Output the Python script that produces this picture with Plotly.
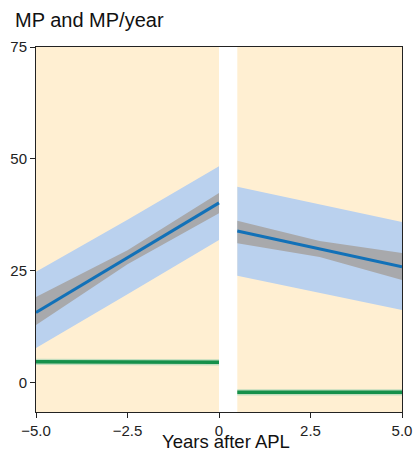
import plotly.graph_objects as go

# ---- data ----
x_pre = [-5.0, -2.5, 0.0]
mp_pre = [15.7, 28.0, 40.2]
ci_pre_lo = [12.9, 26.5, 37.9]
ci_pre_hi = [19.2, 29.6, 42.4]
pi_pre_lo = [7.8, 19.8, 31.9]
pi_pre_hi = [24.8, 36.4, 48.4]

x_post = [0.5, 2.75, 5.0]
mp_post = [33.9, 29.9, 25.9]
ci_post_lo = [31.2, 28.1, 23.0]
ci_post_hi = [36.2, 31.7, 29.0]
pi_post_lo = [23.9, 20.1, 16.3]
pi_post_hi = [43.8, 39.8, 35.9]

rate_pre = [4.7, 4.7, 4.6]
rate_pre_lo = [4.0, 4.0, 3.9]
rate_pre_hi = [5.4, 5.4, 5.3]
rate_post = [-2.1, -2.1, -2.1]
rate_post_lo = [-2.8, -2.8, -2.8]
rate_post_hi = [-1.4, -1.4, -1.4]

x_ticks = [-5.0, -2.5, 0, 2.5, 5.0]
x_tick_labels = ["\u22125.0", "\u22122.5", "0", "2.5", "5.0"]
y_ticks = [0, 25, 50, 75]

BG = "#FFEFD2"
PI_COL = "#BAD1EE"
CI_COL = "#A8A9AC"
LINE_COL = "#1271B8"
GREEN = "#15904A"
GREEN_BAND = "#C2DDBE"

fig = go.Figure()

def band(x, lo, hi, color):
    fig.add_trace(go.Scatter(
        x=list(x) + list(x)[::-1], y=list(hi) + list(lo)[::-1],
        fill="toself", fillcolor=color, line=dict(width=0),
        mode="lines", hoverinfo="skip", showlegend=False))

def line(x, y, color, w):
    fig.add_trace(go.Scatter(x=x, y=y, mode="lines",
                             line=dict(color=color, width=w), showlegend=False))

for xs, m, clo, chi, plo, phi, r, rlo, rhi in [
    (x_pre, mp_pre, ci_pre_lo, ci_pre_hi, pi_pre_lo, pi_pre_hi, rate_pre, rate_pre_lo, rate_pre_hi),
    (x_post, mp_post, ci_post_lo, ci_post_hi, pi_post_lo, pi_post_hi, rate_post, rate_post_lo, rate_post_hi),
]:
    band(xs, plo, phi, PI_COL)
    band(xs, clo, chi, CI_COL)
    line(xs, m, LINE_COL, 3)
    band(xs, rlo, rhi, GREEN_BAND)
    line(xs, r, GREEN, 3.5)

fig.add_shape(type="rect", xref="x", yref="paper", x0=0, x1=0.5, y0=0, y1=1,
              fillcolor="white", line=dict(width=0), layer="below")

fig.add_annotation(text="Years after APL", xref="paper", yref="paper",
                   x=(226 - 36) / 366, y=-30 / 365, xanchor="center", yanchor="middle",
                   showarrow=False, font=dict(size=18.5, color="#111111"))

fig.update_layout(
    width=413, height=450,
    margin=dict(l=36, r=11, t=47, b=38),
    paper_bgcolor="white", plot_bgcolor=BG,
    font=dict(family="Liberation Sans, Arial, sans-serif", color="#222222", size=15),
    title=dict(text="MP and MP/year", x=15 / 413, xanchor="left", xref="container",
               y=1 - 20 / 450, yanchor="middle", yref="container",
               font=dict(size=20, color="#111111")),
    showlegend=False,
)
fig.update_xaxes(range=[-5, 5], tickvals=x_ticks, ticktext=x_tick_labels,
                 showgrid=False, zeroline=False, showline=True, mirror=True,
                 linecolor="#222222", linewidth=1, ticks="outside", ticklen=5,
                 tickcolor="#222222", automargin=False)
fig.update_yaxes(range=[-6.5, 75], tickvals=y_ticks,
                 showgrid=False, zeroline=False, showline=True, mirror=True,
                 linecolor="#222222", linewidth=1, ticks="outside", ticklen=5,
                 tickcolor="#222222", automargin=False)

fig.write_html("out.html", config={"displayModeBar": False},
               post_script="document.body.style.margin='0';window.dispatchEvent(new Event('resize'));")
